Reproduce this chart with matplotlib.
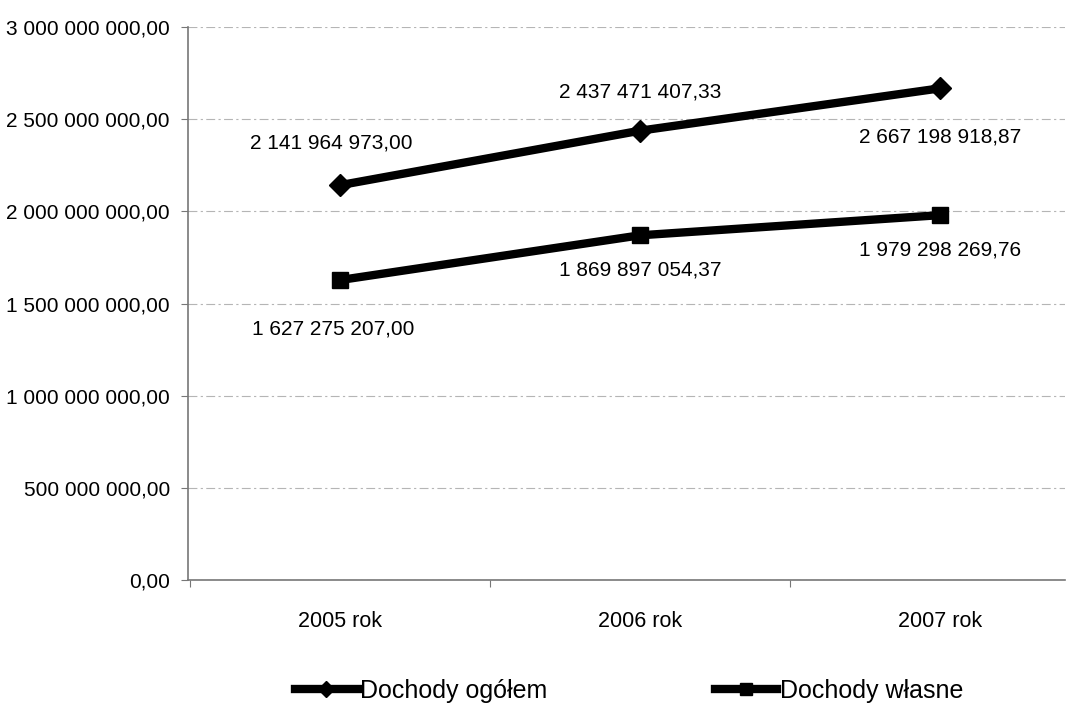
import matplotlib
matplotlib.use('Agg')
from matplotlib import pyplot as plt
from matplotlib.ticker import FuncFormatter

plt.rcParams['font.family'] = ['Liberation Sans', 'DejaVu Sans']

years = ['2005 rok', '2006 rok', '2007 rok']
dochody_ogolem = [2141964973.00, 2437471407.33, 2667198918.87]
dochody_wlasne = [1627275207.00, 1869897054.37, 1979298269.76]


def pl_num(v, pos=None):
    s = '{:,.2f}'.format(v)
    return s.replace(',', ' ').replace('.', ',')


fig = plt.figure(figsize=(10.82, 7.13), dpi=100)
ax = fig.add_axes([188 / 1082, 1 - 580 / 713, (1065 - 188) / 1082, (580 - 27) / 713])

x = range(len(years))
ax.plot(x, dochody_ogolem, color='black', lw=6, marker='D', ms=11,
        label='Dochody ogółem', zorder=3)
ax.plot(x, dochody_wlasne, color='black', lw=6, marker='s', ms=11,
        label='Dochody własne', zorder=3)

# etykiety danych
offs_ogolem = [30, 28, -35]
offs_wlasne = [-35, -25, -25]
for i in x:
    ax.annotate(pl_num(dochody_ogolem[i]), (i, dochody_ogolem[i]),
                xytext=(-6 if i == 0 else 0, offs_ogolem[i]), textcoords='offset points',
                ha='center', va='center', fontsize=15)
    ax.annotate(pl_num(dochody_wlasne[i]), (i, dochody_wlasne[i]),
                xytext=(-5 if i == 0 else 0, offs_wlasne[i]), textcoords='offset points',
                ha='center', va='center', fontsize=15)

ax.set_xlim(-0.507, 2.417)
ax.set_ylim(0, 3000000000)
ax.set_yticks([0, 500000000, 1000000000, 1500000000, 2000000000, 2500000000, 3000000000])
ax.yaxis.set_major_formatter(FuncFormatter(pl_num))
ax.tick_params(axis='y', labelsize=15, length=5, color='#777777', pad=8)

ax.set_xticks([-0.5, 0.5, 1.5])
ax.set_xticklabels([])
ax.set_xticks(list(x), minor=True)
ax.set_xticklabels(years, minor=True)
ax.tick_params(axis='x', which='major', length=5, color='#777777')
ax.tick_params(axis='x', which='minor', length=0, labelsize=15.5, pad=22)

ax.grid(axis='y', color='#b5b5b5', lw=0.8, linestyle=(0, (8, 3, 2, 3)))
ax.set_axisbelow(True)
for s in ['top', 'right']:
    ax.spines[s].set_visible(False)
for s in ['left', 'bottom']:
    ax.spines[s].set_color('#777777')
    ax.spines[s].set_linewidth(1.2)

ax.legend(loc='center', bbox_to_anchor=(0.503, -0.2), ncol=2, frameon=False,
          fontsize=18, handlelength=2.5, handletextpad=0.1, columnspacing=6.7,
          markerscale=0.75)

fig.savefig('out.png', dpi=100)
